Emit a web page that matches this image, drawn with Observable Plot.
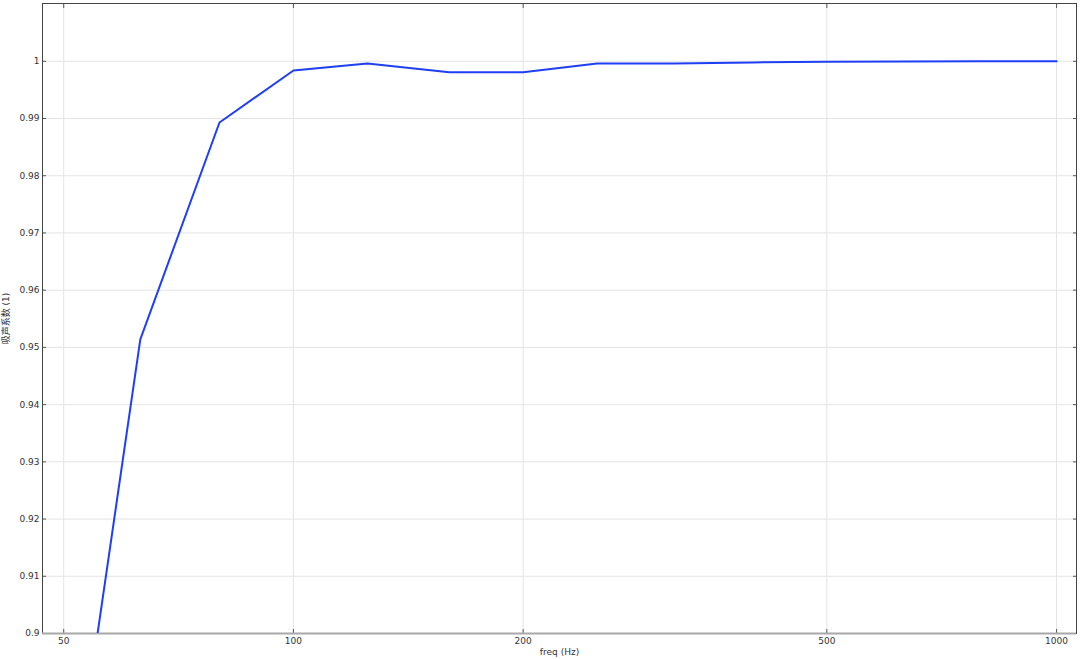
<!DOCTYPE html>
<html>
<head>
<meta charset="utf-8">
<script src="https://cdn.jsdelivr.net/npm/d3@7"></script>
<script src="https://cdn.jsdelivr.net/npm/@observablehq/plot@0.6"></script>
<style>
  html, body { margin: 0; padding: 0; background: #fff; }
  #chart svg { display: block; }
</style>
</head>
<body>
<div id="chart"></div>
<script>
const freqs = [50, 63, 80, 100, 125, 160, 200, 250, 315, 400, 500, 630, 800, 1000];
const absorption = [0.8593, 0.9514, 0.9893, 0.9984, 0.9996, 0.9981, 0.9981, 0.9996, 0.9996, 0.9998, 0.9999, 0.99995, 1.0, 1.0];
const xTicks = [50, 100, 200, 500, 1000];
const yTicks = [0.9, 0.91, 0.92, 0.93, 0.94, 0.95, 0.96, 0.97, 0.98, 0.99, 1];

const data = freqs.map((f, i) => ({ freq: f, alpha: absorption[i] }));

const font = "'DejaVu Sans', 'Noto Sans CJK SC', sans-serif";

const chart = Plot.plot({
  width: 1080,
  height: 659,
  marginLeft: 42,
  marginRight: 4,
  marginTop: 3,
  marginBottom: 26,
  style: { fontFamily: font, fontSize: "9px", color: "#333", background: "#fff" },
  x: { type: "log", domain: [46.9, 1062] },
  y: { domain: [0.9, 1.0101] },
  marks: [
    Plot.gridX(xTicks, { stroke: "#e4e4e4", strokeOpacity: 1 }),
    Plot.gridY(yTicks, { stroke: "#e4e4e4", strokeOpacity: 1 }),
    Plot.axisX(xTicks, { anchor: "bottom", tickSize: -4, tickPadding: 8, stroke: "#555", tickFormat: d => String(d), label: "freq (Hz)", labelAnchor: "center", labelOffset: 21, labelArrow: "none", fill: "#333" }),
    Plot.axisX(xTicks, { anchor: "top", tickSize: -4, fill: "none", label: null, stroke: "#555" }),
    Plot.axisY(yTicks, { anchor: "left", tickSize: -4, tickPadding: 7, stroke: "#555", tickFormat: d => String(+d.toFixed(2)), label: "吸声系数 (1)", labelAnchor: "center", labelOffset: 40, labelArrow: "none", fill: "#333" }),
    Plot.axisY(yTicks, { anchor: "right", tickSize: -4, fill: "none", label: null, stroke: "#555" }),
    Plot.frame({ stroke: "#444", strokeWidth: 1 }),
    Plot.ruleY([0.9], { stroke: "#a8a8a8", strokeWidth: 2 }),
    Plot.line(data, { x: "freq", y: "alpha", stroke: "#1f3ff5", strokeWidth: 2, clip: true })
  ]
});

document.getElementById("chart").appendChild(chart);
</script>
</body>
</html>
